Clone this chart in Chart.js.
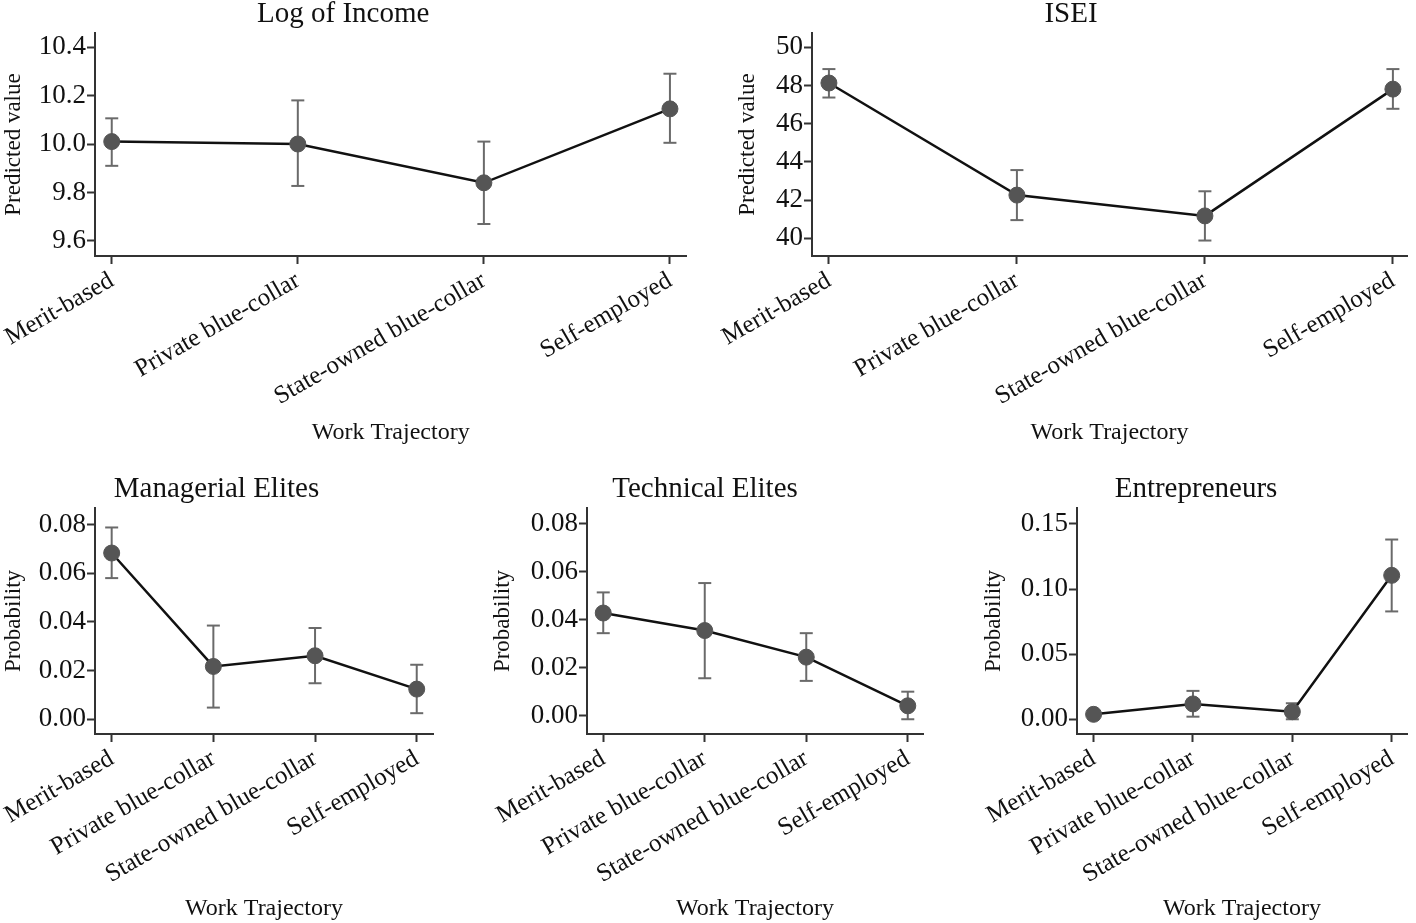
<!DOCTYPE html>
<html>
<head>
<meta charset="utf-8">
<script src="https://cdn.jsdelivr.net/npm/chart.js@4.4.1/dist/chart.umd.min.js"></script>
<style>
  body { margin: 0; background: #fff; width: 1416px; height: 923px; position: relative; overflow: hidden; }
  canvas { position: absolute; }
</style>
</head>
<body>
<canvas id="c-income" width="700" height="450" style="left:0;top:0"></canvas>
<canvas id="c-isei" width="716" height="450" style="left:700px;top:0"></canvas>
<canvas id="c-managerial" width="450" height="448" style="left:0;top:475px"></canvas>
<canvas id="c-technical" width="470" height="448" style="left:467px;top:475px"></canvas>
<canvas id="c-entrepreneur" width="456" height="448" style="left:960px;top:475px"></canvas>
<script>
// ---- data ----
const categories = ['Merit-based', 'Private blue-collar', 'State-owned blue-collar', 'Self-employed'];

const incomeMean = [10.01, 10.00, 9.84, 10.145];
const incomeLow = [9.91, 9.827, 9.67, 10.005];
const incomeHigh = [10.106, 10.18, 10.01, 10.29];
const incomeTicks = [9.6, 9.8, 10.0, 10.2, 10.4];

const iseiMean = [48.13, 42.26, 41.17, 47.81];
const iseiLow = [47.37, 40.95, 39.88, 46.78];
const iseiHigh = [48.86, 43.57, 42.46, 48.86];
const iseiTicks = [40, 42, 44, 46, 48, 50];

const managerialMean = [0.0683, 0.0217, 0.0261, 0.0124];
const managerialLow = [0.058, 0.0048, 0.0148, 0.0025];
const managerialHigh = [0.0788, 0.0385, 0.0375, 0.0224];
const managerialTicks = [0, 0.02, 0.04, 0.06, 0.08];

const technicalMean = [0.0428, 0.0355, 0.0244, 0.0041];
const technicalLow = [0.0344, 0.0156, 0.0145, -0.0015];
const technicalHigh = [0.0514, 0.0553, 0.0344, 0.0100];
const technicalTicks = [0, 0.02, 0.04, 0.06, 0.08];

const entrepreneurMean = [0.0038, 0.0118, 0.0058, 0.1105];
const entrepreneurLow = [0.0015, 0.002, 0.0, 0.0828];
const entrepreneurHigh = [0.0061, 0.0218, 0.0123, 0.138];
const entrepreneurTicks = [0, 0.05, 0.10, 0.15];

// ---- style ----
const FONT = '"Liberation Serif", "Times New Roman", serif';
const INK = '#111111';
const AXIS = '#333333';
const MARKER = '#555555';
const ERRBAR = '#6a6a6a';

function makePanel(id, p) {
    const datasets = [{
        data: p.mean.map((v, i) => ({ x: i, y: v })),
        borderColor: INK,
        borderWidth: 2.5,
        pointRadius: 8,
        pointBackgroundColor: MARKER,
        pointBorderColor: MARKER,
        pointBorderWidth: 1,
        clip: false
    }];
    // one small vertical line per category for the confidence interval
    p.low.forEach((lo, i) => {
        datasets.push({
            data: [{ x: i, y: lo }, { x: i, y: p.high[i] }],
            borderColor: ERRBAR,
            borderWidth: 2,
            pointStyle: 'line',
            pointRadius: 6.5,
            pointBorderColor: ERRBAR,
            pointBorderWidth: 2,
            clip: false
        });
    });

    return new Chart(document.getElementById(id), {
        type: 'line',
        data: { datasets },
        options: {
            responsive: false,
            animation: false,
            layout: { padding: { left: p.padLeft, right: p.padRight, top: 0, bottom: 0 } },
            plugins: {
                legend: { display: false },
                tooltip: { enabled: false },
                title: {
                    display: true,
                    text: p.title,
                    color: INK,
                    font: { family: FONT, size: 29, weight: 'normal', lineHeight: 1.0 },
                    padding: { top: 0, bottom: 4 }
                }
            },
            scales: {
                x: {
                    type: 'linear',
                    min: p.xMin,
                    max: p.xMax,
                    afterBuildTicks: s => { s.ticks = categories.map((c, i) => ({ value: i })); },
                    afterFit: s => { s.height = p.xHeight; },
                    ticks: {
                        autoSkip: false,
                        minRotation: 30,
                        maxRotation: 30,
                        padding: 2,
                        color: INK,
                        font: { family: FONT, size: 25 },
                        callback: v => categories[v]
                    },
                    grid: { drawOnChartArea: false, drawTicks: true, tickLength: 8, tickWidth: 2, tickColor: AXIS },
                    border: { display: true, color: AXIS, width: 2 },
                    title: {
                        display: true,
                        text: 'Work Trajectory',
                        color: INK,
                        font: { family: FONT, size: 24 },
                        padding: { top: 0, bottom: p.xTitlePad }
                    }
                },
                y: {
                    min: p.yMin,
                    max: p.yMax,
                    afterBuildTicks: s => { s.ticks = p.ticks.map(v => ({ value: v })); },
                    afterFit: s => { s.width = p.yWidth; },
                    ticks: {
                        padding: 1,
                        color: INK,
                        font: { family: FONT, size: 27 },
                        callback: v => Number(v).toFixed(p.decimals)
                    },
                    grid: { drawOnChartArea: false, drawTicks: true, tickLength: 8, tickWidth: 2, tickColor: AXIS },
                    border: { display: true, color: AXIS, width: 2 },
                    title: {
                        display: true,
                        text: p.yTitle,
                        color: INK,
                        font: { family: FONT, size: 23 },
                        padding: { top: p.yTitlePad, bottom: 0 }
                    }
                }
            }
        }
    });
}

makePanel('c-income', {
    title: 'Log of Income', yTitle: 'Predicted value',
    mean: incomeMean, low: incomeLow, high: incomeHigh, ticks: incomeTicks, decimals: 1,
    yMin: 9.538, yMax: 10.458, xMin: -0.09, xMax: 3.089,
    padLeft: 0, padRight: 13.5, yWidth: 95, xHeight: 194, xTitlePad: 3, yTitlePad: 0
});

makePanel('c-isei', {
    title: 'ISEI', yTitle: 'Predicted value',
    mean: iseiMean, low: iseiLow, high: iseiHigh, ticks: iseiTicks, decimals: 0,
    yMin: 39.07, yMax: 50.75, xMin: -0.09, xMax: 3.075,
    padLeft: 29, padRight: 3, yWidth: 83, xHeight: 194, xTitlePad: 3, yTitlePad: 5
});

makePanel('c-managerial', {
    title: 'Managerial Elites', yTitle: 'Probability',
    mean: managerialMean, low: managerialLow, high: managerialHigh, ticks: managerialTicks, decimals: 2,
    yMin: -0.00605, yMax: 0.0868, xMin: -0.164, xMax: 3.16,
    padLeft: 0, padRight: 17, yWidth: 95, xHeight: 189, xTitlePad: 0, yTitlePad: 0
});

makePanel('c-technical', {
    title: 'Technical Elites', yTitle: 'Probability',
    mean: technicalMean, low: technicalLow, high: technicalHigh, ticks: technicalTicks, decimals: 2,
    yMin: -0.00765, yMax: 0.0866, xMin: -0.16, xMax: 3.15,
    padLeft: 20, padRight: 14, yWidth: 100, xHeight: 189, xTitlePad: 0, yTitlePad: 2
});

makePanel('c-entrepreneur', {
    title: 'Entrepreneurs', yTitle: 'Probability',
    mean: entrepreneurMean, low: entrepreneurLow, high: entrepreneurHigh, ticks: entrepreneurTicks, decimals: 2,
    yMin: -0.0113, yMax: 0.1622, xMin: -0.167, xMax: 3.154,
    padLeft: 17, padRight: 1, yWidth: 100, xHeight: 189, xTitlePad: 0, yTitlePad: 3
});
</script>
</body>
</html>
